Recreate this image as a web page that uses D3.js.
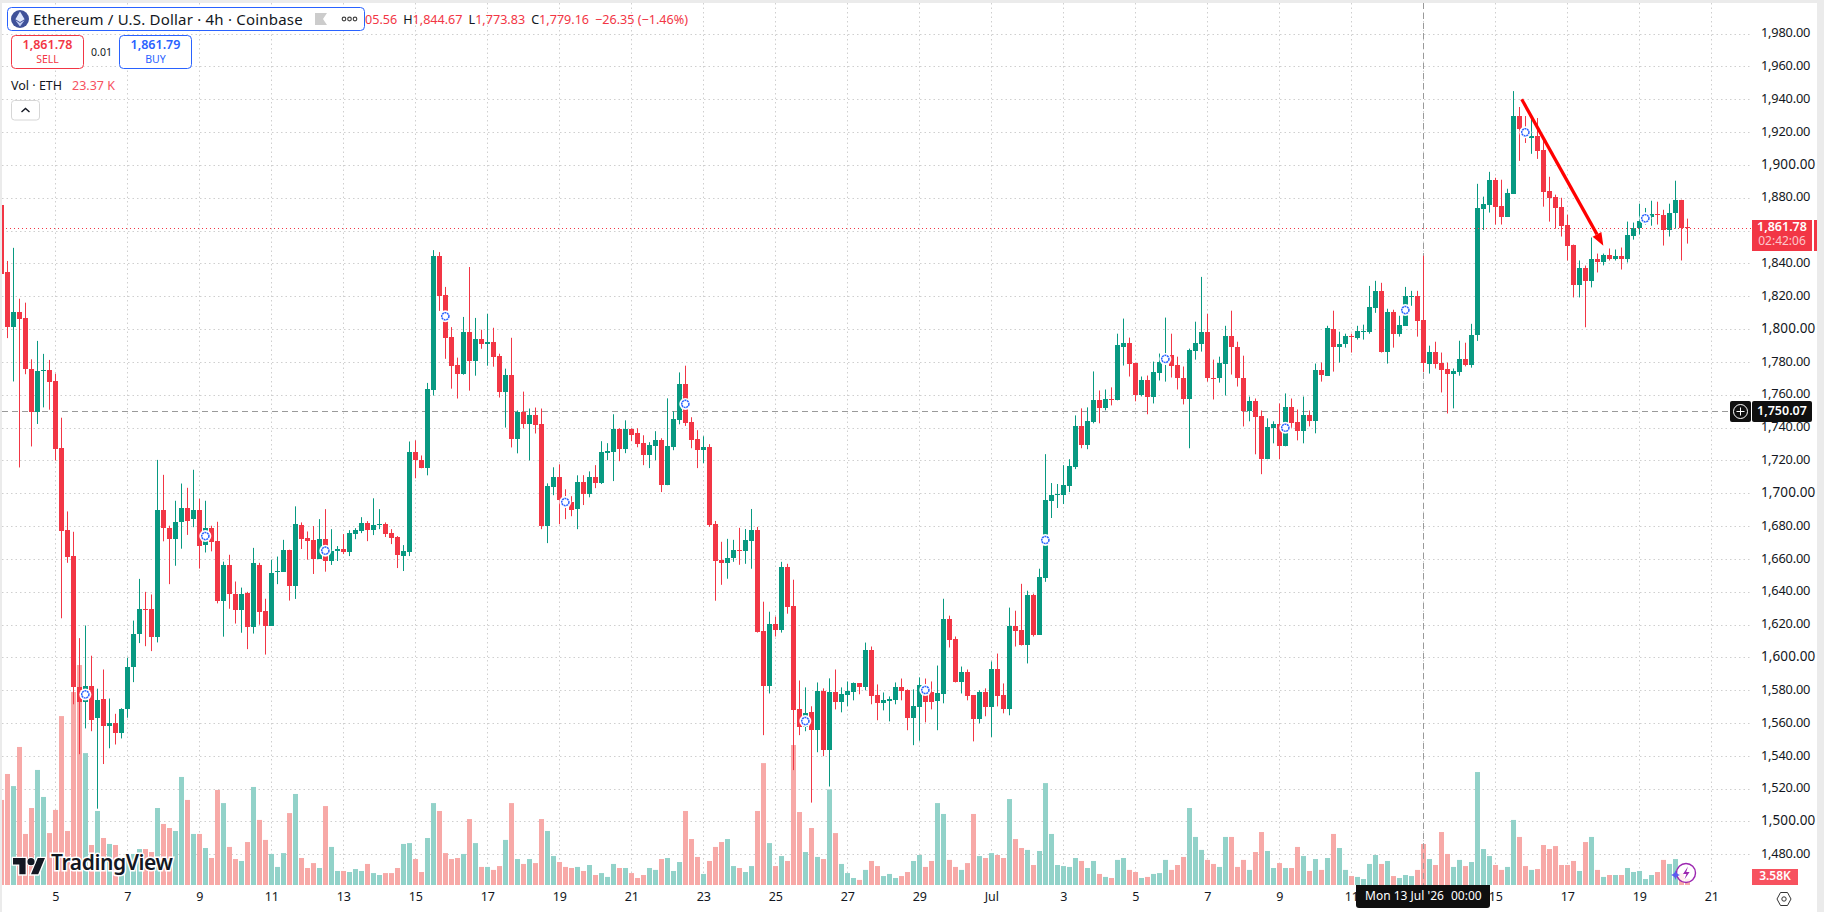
<!DOCTYPE html>
<html>
<head>
<meta charset="utf-8">
<title>ETH/USD 4h</title>
<script src="https://cdnjs.cloudflare.com/ajax/libs/d3/7.9.0/d3.min.js"></script>
<style>
html,body{margin:0;padding:0;background:#fff;overflow:hidden}
svg{display:block}
text{font-family:"Noto Sans",sans-serif}
</style>
</head>
<body>
<svg id="chart" width="1824" height="912"></svg>
<script>
// Candle prices, one entry per 4h bar
const opens = [
1875.6,1835,1801,1810.5,1806.8,1775.8,1749.2,1774.9,1775.3,1768.6,
1727.8,1677.7,1662,1582.1,1572.5,1582.8,1562.8,1574.9,1558.1,1560.2,
1553.7,1568.3,1594,1614,1629.6,1629.6,1612.2,1690,1679.1,1671.8,
1682.3,1691.2,1684.2,1690,1668.3,1679.1,1671.1,1634.6,1656.5,1638.7,
1628.9,1639.4,1618.7,1656.5,1628.5,1619.4,1651.8,1652.2,1665.1,1643.5,
1680.5,1672.6,1671.4,1659.9,1672,1658.7,1664.8,1666,1664.1,1675.1,
1676.9,1681.8,1677.5,1680.5,1681.1,1675.7,1673.3,1661.7,1664.1,1724.9,
1720,1715.2,1763.1,1844.5,1820.8,1795.3,1778.3,1772.8,1798.3,1780.7,
1794.1,1791,1792.3,1783.8,1761.9,1772.2,1732.8,1749.2,1741.9,1747.9,
1741.9,1679.9,1703.6,1709.7,1696.3,1694.5,1690.3,1706.7,1699.5,1709.8,
1706.2,1724.4,1725,1739,1726.8,1739,1736.5,1730.5,1723.2,1728.6,
1732.3,1704.9,1728,1744.4,1766.3,1743.2,1732.9,1726.2,1728,1681.3,
1659.4,1657.6,1660.6,1665.5,1664.9,1671,1677.6,1616.3,1582.3,1620.6,
1616.9,1655.2,1631.5,1568.3,1557.4,1566.5,1555.6,1579.3,1543.4,1578.7,
1572.6,1576.8,1578.7,1584.1,1581.7,1604.2,1576.9,1572,1573.2,1573.8,
1581.7,1579.9,1562.9,1569.5,1578.6,1578.6,1573.2,1577.4,1623.6,1611.4,
1584.7,1590.8,1576.8,1562.2,1578.6,1569.5,1593.2,1576.8,1568.3,1619.3,
1616.9,1607.8,1638.2,1613.9,1648.5,1695.2,1698.9,1698.9,1704.3,1715.9,
1740.8,1729.2,1743.2,1756.6,1751.7,1757.2,1756.6,1789.3,1791.8,1779.6,
1759.6,1768.7,1758.4,1773,1780.2,1784.4,1778.4,1770.5,1757.7,1786.9,
1791.1,1798.4,1770.5,1769.9,1779,1796,1789.3,1770.5,1749.8,1755.9,
1746.8,1720.7,1739.5,1741.9,1728.6,1752.3,1743.2,1737.7,1747.4,1743.8,
1775.3,1771.7,1800.2,1789.3,1791.1,1796,1794.8,1798.6,1798.4,1813,
1823.3,1786.3,1810.6,1797.2,1802,1819.9,1820.3,1805.56,1779,1786.3,
1779.6,1775.9,1772.9,1774,1781.9,1778.3,1796.3,1873.4,1875.8,1891,
1875.2,1868.5,1882.5,1929.8,1921.9,1916.5,1917.7,1909.2,1884.3,1880.7,
1874.6,1863.7,1851.5,1826.6,1837.5,1829,1843,1840.6,1845.4,1843,
1844.8,1842.4,1857,1861.8,1866,1868.5,1870.3,1869.7,1860.6,1870.9,
1878.8,1862.2];
const highs = [
1876,1841.5,1849.5,1818.5,1816.1,1781.6,1792.8,1784.9,1781.2,1772.8,
1746,1688.9,1676.5,1611.7,1619.4,1601,1580.9,1592.6,1574.9,1565.6,
1569,1599.8,1622.4,1647.8,1639.9,1638.3,1720.3,1711.2,1680.2,1695.4,
1705.9,1703.3,1714.3,1696.6,1695.4,1680.2,1682.6,1658.3,1662.5,1646.2,
1642.5,1639.9,1666.7,1657.6,1635.7,1659.5,1661.4,1671.6,1665.6,1692,
1682.2,1676.7,1680,1684.2,1690.3,1678.1,1667.8,1675.1,1677.5,1678.7,
1685.4,1683,1696.9,1690.3,1682.2,1678.1,1673.9,1668.4,1731.5,1732.2,
1723,1767.2,1848.1,1846.9,1825.7,1801.2,1782.6,1807.4,1837.8,1806.8,
1799.6,1809.3,1800.8,1785,1775.9,1794.7,1750.4,1761.9,1751.6,1752.2,
1751.6,1706,1715.8,1717.6,1702.4,1698.2,1710.9,1711,1713.3,1717.1,
1731.7,1730.5,1748.1,1739.6,1744.4,1739.6,1739.6,1735.3,1731.1,1737.8,
1733.5,1757.8,1749.9,1773.6,1777.7,1746.3,1738.4,1734.7,1729.9,1683.1,
1670.4,1672.2,1671.6,1678.9,1678.2,1690.4,1679.5,1633.9,1627.8,1624.8,
1658.2,1657,1647.3,1585.9,1581.7,1570.2,1584.7,1581.1,1587.2,1592.6,
1581.7,1585.3,1584.7,1584.1,1609,1606.6,1583.5,1578.6,1576.2,1584.7,
1587.1,1580.5,1580.5,1587.8,1587.1,1585.3,1595,1635.7,1625.4,1612.7,
1594.4,1592.6,1576.8,1579.9,1581.1,1597.5,1602.3,1584.1,1630.3,1628.4,
1644.8,1640.6,1638.8,1654,1723.8,1706.2,1705.6,1717.1,1720.7,1747.4,
1751.7,1752.3,1774.2,1762.6,1763.2,1764.5,1797.2,1806.4,1794.8,1779.6,
1771.1,1771.7,1780.2,1785.1,1807,1797.2,1783.2,1777.2,1788.1,1804.5,
1831.8,1809.3,1781.4,1783.2,1802,1811.2,1792.3,1783.8,1758.9,1757.7,
1750.4,1745.6,1743.8,1754.7,1760.8,1757.7,1751,1758.9,1750.4,1779,
1779.6,1802,1811.2,1798.4,1797.2,1797.2,1802,1802.7,1826.3,1829.4,
1828.2,1812.4,1811.8,1808.1,1825.7,1823.3,1823.3,1844.67,1789.9,1792.3,
1785.7,1779.6,1776,1792.9,1791.7,1803.2,1888.5,1880.7,1895.8,1892.2,
1891,1885.5,1945,1935.3,1929.8,1928,1928.6,1915.3,1892.8,1881.9,
1880,1869.7,1851.5,1841.8,1838.7,1855.8,1846,1846,1849.1,1848.5,
1849.7,1865.5,1864.9,1876.4,1873.8,1878.2,1877.6,1872.7,1876.4,1890.4,
1878.8,1867.3];
const lows = [
1833.6,1794.5,1768.1,1715.7,1772.5,1728.5,1742.2,1752.3,1750.9,1719.9,
1623.8,1657.6,1571.4,1541,1556.7,1555,1507.8,1535,1544.6,1546.9,
1550.6,1563.2,1584.9,1608.7,1606.8,1603.8,1609.1,1670.7,1644.6,1655.8,
1666.2,1674.6,1679.3,1654.1,1663.9,1664.6,1632.9,1612.6,1629.6,1620.6,
1615,1605,1614.5,1619.9,1601.7,1619.4,1644.6,1652.2,1634.6,1635.6,
1666,1659.5,1650.8,1659.9,1652.2,1656.3,1658.7,1662.9,1661.7,1672,
1675.7,1670.8,1674.5,1678.1,1673.3,1669,1654.4,1652.6,1661.7,1709.1,
1715.2,1710.9,1759.5,1811.1,1781.9,1763.7,1757.7,1772.2,1762.5,1771.6,
1788,1777.7,1777.1,1758.3,1740,1727.9,1724.3,1739.4,1720,1736.4,
1678.1,1669.6,1698.8,1681.1,1684.2,1686,1678.1,1692.8,1697.5,1703.1,
1705.6,1720.1,1707.4,1719.5,1724.4,1731.7,1728,1717.1,1715.3,1720.1,
1700.7,1704.9,1726.2,1742,1741,1727.4,1715.3,1718.3,1679.5,1634.5,
1644.2,1647.9,1658.2,1656.4,1657,1654,1615.1,1552.6,1578,1612.7,
1615.1,1626.6,1531.3,1552.6,1555,1511.5,1542.2,1539.8,1521.3,1568.3,
1566.5,1570.2,1573.8,1577.5,1579.9,1571.4,1561.7,1567.7,1561,1571.4,
1573.8,1555.6,1546.5,1549.2,1560.4,1568.3,1555.6,1572,1606,1584.7,
1578,1573.8,1548.8,1559.8,1564.1,1551.5,1570.1,1565.9,1564.7,1606.6,
1607.2,1596.3,1612.7,1613.9,1646,1684.9,1691,1693.4,1700.7,1714.7,
1727.4,1726.8,1742.6,1742.6,1750.5,1753.5,1756.6,1777.8,1771.1,1756,
1759,1748.1,1754.7,1768.7,1768,1770.5,1763.2,1754.1,1727.4,1781.4,
1786.3,1768,1757.1,1767.4,1759.5,1772.3,1765,1740.7,1743.8,1723.7,
1711.6,1720.7,1730.4,1720.7,1728.6,1739.5,1732.2,1730.4,1740.7,1736.5,
1768,1771.7,1774.1,1779.6,1788.7,1785.7,1793.6,1793.6,1797.2,1809.9,
1785.7,1779,1788.7,1795.4,1802,1814.2,1795.4,1773.83,1772.9,1776,
1761.4,1748.6,1751.7,1771.6,1777.3,1776.5,1792.8,1860.4,1871,1863.7,
1863.7,1868.5,1882.5,1902.5,1913.4,1906.8,1903.7,1874.6,1865.5,1861.2,
1856.4,1841.8,1819.3,1819.3,1801.1,1825.4,1834.5,1838.8,1841.8,1841.8,
1836.3,1840.6,1854.5,1857.6,1863.7,1863,1863.7,1850.9,1856.4,1861.2,
1841.8,1852.1];
const closes = [
1833.6,1801,1810.5,1806.3,1775.6,1749.2,1774.6,1775.3,1767.9,1727.1,
1677.2,1661.3,1581.9,1572.5,1582.8,1562,1574.2,1558.1,1560.2,1553.7,
1568.8,1594.2,1614.5,1629.6,1629.2,1612.2,1690,1678.6,1671.8,1682.6,
1691.2,1683.3,1690,1668.1,1678.8,1670.4,1634.6,1656.5,1638.3,1628.9,
1638.7,1618.7,1657.2,1627.8,1619.4,1651.6,1652.7,1665.1,1643.2,1681,
1672,1670.8,1659.9,1672,1658.7,1664.8,1666,1664.1,1675.7,1677.5,
1681.8,1677.5,1680.5,1681.1,1675.1,1672.6,1662.3,1664.8,1724.9,1720,
1715.2,1763.7,1844.5,1820.2,1794.7,1777.7,1772.8,1798.3,1780.7,1794.1,
1791,1792.3,1783.2,1761.9,1772.2,1732.8,1749.2,1741.9,1747.9,1741.3,
1679.9,1704.2,1709.7,1695.7,1692.3,1689.7,1706.6,1699.5,1709.8,1706.2,
1725,1725.6,1739,1726.8,1739,1735.3,1729.9,1723.2,1729.3,1732.3,
1704.9,1728.6,1745,1766.3,1742.6,1732.3,1726.2,1728,1680.7,1658.8,
1657.6,1660.6,1665.5,1664.9,1671.6,1677.6,1615.7,1582.3,1620.6,1616.9,
1655.2,1630.9,1567.7,1557.4,1565.9,1555.6,1579.3,1543.4,1578.7,1572.6,
1577.5,1579.3,1584.1,1581.7,1604.2,1576.3,1572,1573.8,1574.4,1581.7,
1579.2,1562.9,1570.1,1582.9,1572.6,1572.6,1578,1623.6,1610.8,1584.7,
1590.8,1576.2,1562.2,1578.6,1569.5,1593.2,1576.2,1568.3,1619.3,1616.3,
1607.8,1638.2,1613.9,1649.1,1695.8,1698.9,1699.5,1704.9,1716.5,1740.8,
1729.2,1743.8,1756.6,1751.7,1757.2,1756.8,1790,1791.8,1779,1759.6,
1768.7,1758.4,1773.6,1780.2,1784.4,1777.8,1769.9,1757.1,1787.5,1791.7,
1798.4,1769.9,1769.9,1779.6,1796,1789.3,1769.9,1749.8,1755.9,1746.2,
1720.7,1740.1,1741.9,1728.6,1752.3,1742.6,1737.7,1747.4,1743.8,1775.3,
1772.3,1800.8,1789.3,1791.1,1796,1795.4,1799,1799,1813.6,1823.3,
1786.3,1810.6,1797.2,1802.7,1820.3,1820.3,1805.1,1779.16,1786.3,1779,
1775.3,1772.9,1774.7,1782,1778.3,1796.5,1874,1876.4,1891,1874.6,
1868.5,1883.1,1929.8,1921.9,1917.1,1917.7,1908.6,1883.7,1880,1874,
1863,1850.9,1826.6,1837.5,1829,1843,1840.6,1845.4,1843,1844.8,
1842.4,1857.6,1861.8,1866.1,1870.7,1870.3,1869.7,1860.6,1870.9,1878.8,
1861.6,1861.78];
// Traded volume per bar, thousands of ETH
const volumes = [
48.5,63.3,56.4,78.7,29.1,43.9,65.6,50.2,29.6,42.8,
96.3,30.8,110,125.4,75.2,22.8,42.2,26.8,23.4,22.8,
8.6,17.7,17.7,20.5,20.5,18.8,43.9,34.8,32.5,30.8,
61.6,48.5,29.1,29.1,21.1,15.4,54.2,46.7,21.7,14.8,
13.7,24.5,55.9,37.1,25.7,17.7,10.3,18.2,41,51.9,
15.4,9.7,12.5,9.7,45,21.7,8,8,7.4,9.1,
8,12,6.8,5.7,6.8,6.8,9.7,23.4,23.9,14.8,
7.4,26.8,46.7,42.2,18.2,14.8,15.4,17.7,37.6,23.9,
10.3,10.3,8.6,10.8,25.7,46.7,14.8,12,14.8,12.5,
37.6,30.8,16.5,13.1,10.3,9.7,10.3,8,11.4,5.7,
6.8,4.6,12,9.7,9.7,6.8,4,5.7,9.7,8.6,
14.8,15.4,8,13.1,42.2,26.2,16,6.3,13.7,21.7,
24.5,26.2,10.8,9.7,7.4,10.8,42.2,69.5,23.9,10.8,
16.5,13.7,79.8,41.6,18.8,32.5,16,14.8,54.5,29.6,
12,6.8,4,2.9,8.6,13.7,10.8,5.1,6.3,4,
5.1,7.4,13.7,17.1,10.3,13.7,46.7,40.5,14.3,10.3,
8.6,12.5,40.5,16.5,15.4,18.2,17.1,15.4,49,26.2,
21.1,20,11.4,19.4,58.1,29.1,11.4,10.8,10.3,15.4,
13.7,9.7,13.7,6.3,4.6,4,14.3,15.4,8.6,7.4,
4,4.6,6.3,6.8,14.3,8.6,11.4,16,43.9,27.4,
20,14.3,12,10.3,27.4,27.4,10.3,14.3,8.6,18.8,
30.2,19.4,9.7,12.5,9.7,9.7,21.7,16.5,8,14.8,
8.6,15.4,29.1,21.1,8.6,5.1,4.6,3.4,12,17.1,
12,13.7,5.1,4,5.7,5.1,8.6,23.37,14.8,11.4,
30.2,17.7,10.3,14.3,10.8,13.1,64.4,20.5,16.5,11.4,
8.6,10.3,37.1,27.4,10.8,8.6,9.1,22.8,20.5,22.2,
11.4,11.4,13.7,8,24.5,27.4,8.6,4.6,5.7,5.7,
5.7,9.7,7.4,8,3.4,5.7,7.4,14.3,12,14.8,
6.7,3.58];

// Session-break rings: bar index and the price they sit on
const markerBars = [14,34,54,74,94,114,134,154,174,194,214,234,254,274];
const markerPrices = [1577.4,1673.9,1665,1807.8,1694.6,1754.4,1561.2,1580.1,1671.5,1781.8,1739.9,1811.6,1919.9,1867.5];

const priceTicks = d3.range(1480, 1981, 20);
const dayLabels = ["5","7","9","11","13","15","17","19","21","23","25","27","29","Jul","3","5","7","9","11","13","15","17","19","21"];

const lastPrice = 1861.78;
const crosshairPrice = 1750.07;
const crosshairBar = 237;
const arrowBars = [253.4, 267];
const arrowPrices = [1940, 1850.8];

const RED = "#f23645", GREEN = "#089981", BLUE = "#2962ff", INK = "#131722";
const VOL_RED = "#f7a9a7", VOL_GREEN = "#92d2c9";
const PLOT_RIGHT = 1752, PLOT_BOTTOM = 885, PLOT_LEFT = 2, PLOT_TOP = 3;

const firstBar = Date.UTC(2026, 5, 3, 12);
const barMs = 4 * 3600 * 1000;
const barDate = i => new Date(firstBar + i * barMs);

const x = d3.scaleTime()
  .domain([barDate(0), barDate(281)])
  .range([1.33, 1687.33]);
const y = d3.scaleLinear().domain([1940, 1480]).range([99.3, 854.3]);
const v = d3.scaleLinear().domain([0, 100]).range([PLOT_BOTTOM, PLOT_BOTTOM - 175.4]);

const bars = opens.map((o, i) => ({
  i, date: barDate(i), o, h: highs[i], l: lows[i], c: closes[i], vol: volumes[i], up: closes[i] >= o
}));
const tickDates = dayLabels.map((_, k) => barDate(9 + 12 * k));

const svg = d3.select("#chart");
svg.append("defs").append("clipPath").attr("id", "plot")
  .append("rect").attr("x", PLOT_LEFT).attr("y", PLOT_TOP)
  .attr("width", PLOT_RIGHT - PLOT_LEFT).attr("height", PLOT_BOTTOM - PLOT_TOP);

// Window frame strips
svg.append("rect").attr("width", 1824).attr("height", 912).attr("fill", "#fff");
svg.append("rect").attr("width", 1824).attr("height", 3).attr("fill", "#ebebeb");
svg.append("rect").attr("width", 2).attr("height", 912).attr("fill", "#ebebeb");
svg.append("rect").attr("x", 1817).attr("width", 7).attr("height", 912).attr("fill", "#ebebeb");

// Dotted grid
const grid = svg.append("g").attr("stroke", "#cfcfcf").attr("stroke-dasharray", "1.5 3");
grid.selectAll("line.h").data(priceTicks).join("line")
  .attr("x1", PLOT_LEFT).attr("x2", PLOT_RIGHT)
  .attr("y1", d => Math.round(y(d)) + .5).attr("y2", d => Math.round(y(d)) + .5);
grid.selectAll("line.v").data(tickDates).join("line")
  .attr("y1", PLOT_TOP).attr("y2", PLOT_BOTTOM)
  .attr("x1", d => Math.round(x(d)) + .5).attr("x2", d => Math.round(x(d)) + .5);

const plot = svg.append("g").attr("clip-path", "url(#plot)");

// Volume histogram
plot.append("g").selectAll("rect").data(bars).join("rect")
  .attr("x", d => Math.round(x(d.date) - 2.5))
  .attr("width", 5)
  .attr("y", d => v(d.vol))
  .attr("height", d => PLOT_BOTTOM - v(d.vol))
  .attr("fill", d => d.up ? VOL_GREEN : VOL_RED);

// Crosshair behind the candles
plot.append("line")
  .attr("x1", Math.round(x(barDate(crosshairBar))) + .5).attr("x2", Math.round(x(barDate(crosshairBar))) + .5)
  .attr("y1", PLOT_TOP).attr("y2", PLOT_BOTTOM)
  .attr("stroke", "#9a9a9a").attr("stroke-dasharray", "6 4");
plot.append("line")
  .attr("x1", PLOT_LEFT).attr("x2", 1730)
  .attr("y1", Math.round(y(crosshairPrice)) + .5).attr("y2", Math.round(y(crosshairPrice)) + .5)
  .attr("stroke", "#9a9a9a").attr("stroke-dasharray", "6 4");

// Candles
const candle = plot.append("g").selectAll("g").data(bars).join("g")
  .attr("fill", d => d.up ? GREEN : RED);
candle.append("rect")
  .attr("x", d => Math.round(x(d.date) - 2.5) + 2)
  .attr("width", 1)
  .attr("y", d => y(d.h))
  .attr("height", d => y(d.l) - y(d.h));
candle.append("rect")
  .attr("x", d => Math.round(x(d.date) - 2.5))
  .attr("width", 5)
  .attr("y", d => Math.round(y(Math.max(d.o, d.c))))
  .attr("height", d => Math.max(1, Math.round(y(Math.min(d.o, d.c))) - Math.round(y(Math.max(d.o, d.c)))));

// Last price line
plot.append("line")
  .attr("x1", PLOT_LEFT + 4).attr("x2", PLOT_RIGHT)
  .attr("y1", Math.round(y(lastPrice)) + .5).attr("y2", Math.round(y(lastPrice)) + .5)
  .attr("stroke", RED).attr("stroke-dasharray", "1 3");

// Session rings
const rings = plot.append("g").selectAll("g").data(markerBars).join("g")
  .attr("transform", (d, k) => `translate(${x(barDate(d))},${y(markerPrices[k])})`);
rings.append("circle").attr("r", 6).attr("fill", "#fff");
rings.append("circle").attr("r", 3.6).attr("fill", "#fff")
  .attr("stroke", BLUE).attr("stroke-width", 1.5).attr("stroke-dasharray", "2 .6");

// Red trend arrow
const ax0 = x(barDate(arrowBars[0])), ay0 = y(arrowPrices[0]);
const ax1 = x(barDate(arrowBars[1])), ay1 = y(arrowPrices[1]);
const ang = Math.atan2(ay1 - ay0, ax1 - ax0);
const headLen = 13, headHalf = 5;
const bx = ax1 - headLen * Math.cos(ang), by = ay1 - headLen * Math.sin(ang);
const arrow = svg.append("g").attr("fill", "#ff0000").attr("stroke", "#ff0000");
arrow.append("line").attr("x1", ax0).attr("y1", ay0).attr("x2", bx).attr("y2", by)
  .attr("stroke-width", 3.2);
arrow.append("path").attr("stroke", "none")
  .attr("d", d3.line()([
    [ax1, ay1],
    [bx - headHalf * Math.sin(ang), by + headHalf * Math.cos(ang)],
    [bx + headHalf * Math.sin(ang), by - headHalf * Math.cos(ang)]
  ]) + "Z");

// Price axis
const yAxis = d3.axisRight(y).tickValues(priceTicks).tickSize(0).tickPadding(0)
  .tickFormat(d3.format(",.2f"));
const yG = svg.append("g").attr("transform", "translate(1761,0)").call(yAxis);
yG.select(".domain").remove();
yG.selectAll("text").attr("font-size", d => d % 100 === 0 ? 13.5 : 12.8)
  .attr("fill", INK).attr("font-family", "'Noto Sans',sans-serif").attr("dy", "0.25em")
  .attr("letter-spacing", d => d % 100 === 0 ? "0.1px" : "-0.2px");

// Date axis; the tick under the crosshair date tag stays hidden
const xAxis = d3.axisBottom(x).tickValues(tickDates).tickSize(0).tickPadding(0)
  .tickFormat((d, k) => dayLabels[k]);
const xG = svg.append("g").attr("transform", `translate(0,${PLOT_BOTTOM + 6.5})`).call(xAxis);
xG.select(".domain").remove();
xG.selectAll(".tick").filter(d => +d === +barDate(crosshairBar)).remove();
xG.selectAll("text").attr("font-size", 12.5).attr("fill", INK)
  .attr("font-family", "'Noto Sans',sans-serif").attr("dy", "0.72em");

// Last price tag
svg.append("rect").attr("x", 1752).attr("y", 220).attr("width", 60).attr("height", 31).attr("fill", RED);
svg.append("rect").attr("x", 1814).attr("y", 220).attr("width", 3).attr("height", 31).attr("fill", RED);
svg.append("text").attr("x", 1782).attr("y", 228).attr("text-anchor", "middle").attr("dominant-baseline", "middle")
  .attr("font-size", 12.5).attr("font-weight", 600).attr("fill", "#fff").text(d3.format(",.2f")(lastPrice));
svg.append("text").attr("x", 1782).attr("y", 242).attr("text-anchor", "middle").attr("dominant-baseline", "middle")
  .attr("font-size", 12).attr("fill", "#fcc6cb").text("02:42:06");

// Crosshair price tag with the add button
svg.append("rect").attr("x", 1730).attr("y", 401).attr("width", 21).attr("height", 21).attr("rx", 2).attr("fill", "#0f0f0f");
svg.append("rect").attr("x", 1752).attr("y", 401).attr("width", 60).attr("height", 21).attr("rx", 2).attr("fill", "#0f0f0f");
svg.append("circle").attr("cx", 1740.5).attr("cy", 411.5).attr("r", 7).attr("fill", "none").attr("stroke", "#fff");
svg.append("path").attr("d", "M1736.5 411.5h8M1740.5 407.5v8").attr("stroke", "#fff");
svg.append("text").attr("x", 1782).attr("y", 411.5).attr("text-anchor", "middle").attr("dominant-baseline", "middle")
  .attr("font-size", 12.5).attr("font-weight", 600).attr("fill", "#fff").text(d3.format(",.2f")(crosshairPrice));

// Volume tag
svg.append("rect").attr("x", 1752).attr("y", 869).attr("width", 46).attr("height", 16).attr("fill", "#f7525f");
svg.append("text").attr("x", 1775).attr("y", 877).attr("text-anchor", "middle").attr("dominant-baseline", "middle")
  .attr("font-size", 12).attr("font-weight", 600).attr("fill", "#fff").text("3.58K");

// Crosshair date tag
svg.append("path").attr("d", "M1356 885H1490V905a3 3 0 0 1 -3 3H1359a3 3 0 0 1 -3 -3Z").attr("fill", "#0f0f0f");
svg.append("text").attr("x", 1365).attr("y", 897).attr("dominant-baseline", "middle")
  .attr("font-size", 12).attr("fill", "#fff").text("Mon 13 Jul '26");
svg.append("text").attr("x", 1451).attr("y", 897).attr("dominant-baseline", "middle")
  .attr("font-size", 12).attr("fill", "#fff").text("00:00");

// Settings hexagon
svg.append("path").attr("d", "M1777 899l3.5-6.5h7l3.5 6.5-3.5 6.5h-7Z").attr("fill", "none").attr("stroke", "#333");
svg.append("circle").attr("cx", 1784).attr("cy", 899).attr("r", 2.2).attr("fill", "none").attr("stroke", "#333");

// Header: instrument pill
svg.append("rect").attr("x", 7.5).attr("y", 7.5).attr("width", 357).attr("height", 23).attr("rx", 4)
  .attr("fill", "#fff").attr("stroke", BLUE);
svg.append("circle").attr("cx", 20).attr("cy", 19).attr("r", 9).attr("fill", "#3f5199");
svg.append("path").attr("d", "M20 11.5l4.6 7.7-4.6 2.7-4.6-2.7Z").attr("fill", "#dfe6fb");
svg.append("path").attr("d", "M20 22.9l4.6-2.7-4.6 6.3-4.6-6.3Z").attr("fill", "#c4cff2");
svg.append("text").attr("x", 33).attr("y", 24.5).attr("font-size", 15).attr("fill", INK)
  .attr("letter-spacing", "0.2px").text("Ethereum / U.S. Dollar · 4h · Coinbase");
svg.append("path").attr("d", "M315 13h12l-4 6 4 6h-12Z").attr("fill", "#cccccc");
svg.append("g").attr("fill", "none").attr("stroke", "#444").attr("stroke-width", 1.2).selectAll("circle")
  .data([344, 349.5, 355]).join("circle").attr("cx", d => d).attr("cy", 19).attr("r", 1.8);

// Header: OHLC of the crosshair bar, partly tucked under the pill
const ohlc = svg.append("text").attr("x", 365).attr("y", 24).attr("font-size", 12.6).attr("fill", RED);
ohlc.append("tspan").text("05.56");
[["H", highs[crosshairBar]], ["L", lows[crosshairBar]], ["C", closes[crosshairBar]]].forEach(([k, val]) => {
  ohlc.append("tspan").attr("dx", 6).attr("fill", INK).text(k);
  ohlc.append("tspan").text(d3.format(",.2f")(val));
});
ohlc.append("tspan").attr("dx", 6).text("−26.35 (−1.46%)");

// Sell / buy buttons
const trade = [
  {x: 11.5, label: "SELL", price: "1,861.78", color: RED},
  {x: 119.5, label: "BUY", price: "1,861.79", color: BLUE}
];
const btn = svg.append("g").selectAll("g").data(trade).join("g");
btn.append("rect").attr("x", d => d.x).attr("y", 35.5).attr("width", 72).attr("height", 33).attr("rx", 4)
  .attr("fill", "#fff").attr("stroke", d => d.color);
btn.append("text").attr("x", d => d.x + 36).attr("y", 49).attr("text-anchor", "middle")
  .attr("font-size", 12.5).attr("font-weight", 600).attr("fill", d => d.color).text(d => d.price);
btn.append("text").attr("x", d => d.x + 36).attr("y", 63).attr("text-anchor", "middle")
  .attr("font-size", 10.5).attr("fill", d => d.color).text(d => d.label);
svg.append("text").attr("x", 101.5).attr("y", 56).attr("text-anchor", "middle")
  .attr("font-size", 10.5).attr("fill", INK).text("0.01");

// Volume legend
svg.append("text").attr("x", 11).attr("y", 90).attr("font-size", 12.5).attr("fill", INK).text("Vol · ETH");
svg.append("text").attr("x", 72).attr("y", 90).attr("font-size", 12.5).attr("fill", "#f7525f").text("23.37 K");

// Collapse button
svg.append("rect").attr("x", 11.5).attr("y", 100.5).attr("width", 28).attr("height", 19.5).attr("rx", 3)
  .attr("fill", "#fff").attr("stroke", "#d6d6d6");
svg.append("path").attr("d", "M21.5 112l4-3.5 4 3.5").attr("fill", "none").attr("stroke", INK).attr("stroke-width", 1.4);

// Brand mark
const brand = svg.append("g");
brand.append("path").attr("transform", "translate(13,854.5) scale(0.9)")
  .attr("d", "M14 22H7V11H0V4h14v18zM28 22h-8l7.5-18h8L28 22z")
  .attr("fill", "#131722").attr("stroke", "#fff").attr("stroke-width", 3).attr("paint-order", "stroke");
brand.append("circle").attr("cx", 31).attr("cy", 861.7).attr("r", 3.6).attr("fill", "#131722")
  .attr("stroke", "#fff").attr("stroke-width", 2).attr("paint-order", "stroke");
brand.append("text").attr("x", 51).attr("y", 870).attr("font-family", "Inter,sans-serif").attr("font-size", 21)
  .attr("font-weight", 600).attr("fill", "#131722").attr("stroke", "#fff").attr("stroke-width", 3)
  .attr("paint-order", "stroke").attr("letter-spacing", "-0.4px").text("TradingView");

// Assistant badge near the latest bar
svg.append("circle").attr("cx", 1686).attr("cy", 873).attr("r", 9.5).attr("fill", "#ffffffcc")
  .attr("stroke", "#9c27b0").attr("stroke-width", 1.4);
svg.append("path").attr("d", "M1688 866.5l-5 7.5h3.4l-2 5.5 5.2-7.5h-3.4Z").attr("fill", "#9c27b0");
svg.append("path").attr("d", "M1675.5 870c.8 3.2 1.6 4 4.8 5-3.2 1-4 1.8-4.8 5-.8-3.2-1.6-4-4.8-5 3.2-1 4-1.8 4.8-5Z")
  .attr("fill", "#5b5bf0");
</script>
</body>
</html>
